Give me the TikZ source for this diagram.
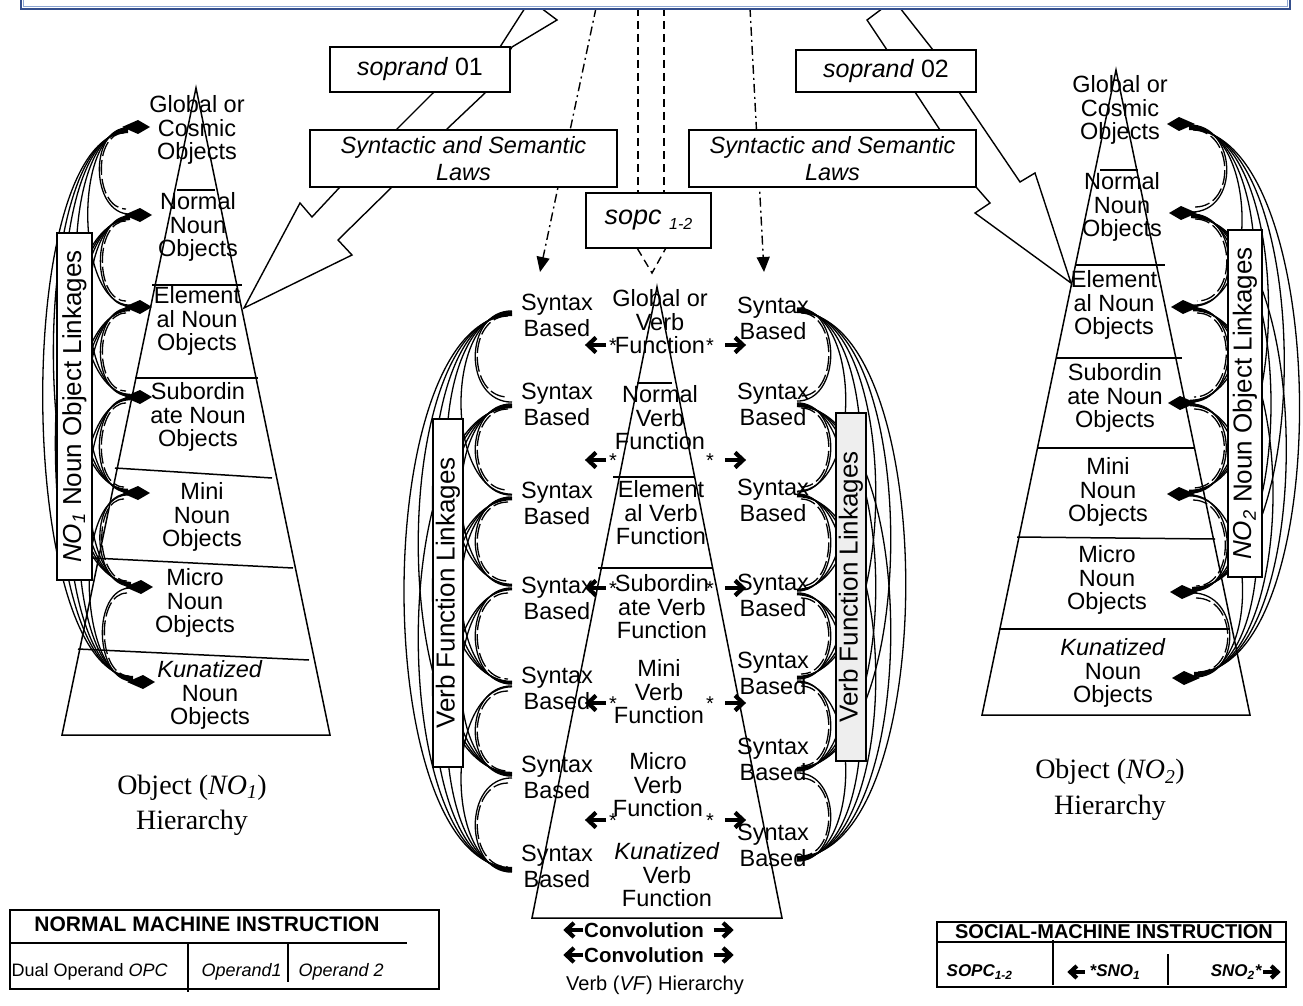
\documentclass[tikz,border=0pt]{standalone}
\usepackage{fontspec}
\setmainfont{Liberation Sans}
\newfontfamily\serifface{Liberation Serif}
\usetikzlibrary{calc,arrows.meta}
\definecolor{bannerblue}{RGB}{52,78,140}
\definecolor{bannerlight}{RGB}{140,165,210}
\definecolor{boxgray}{RGB}{238,238,238}
\newcommand{\linkcurves}[4]{%
  \foreach \i in {1,...,6}{%
    \pgfmathtruncatemacro\nxt{\i+1}%
    \foreach \j in {\nxt,...,7}{%
      \pgfmathsetmacro\cd{#2*(#3+#4*(\j-\i))}%
      \pgfmathsetmacro\oy{0.9*(\j-\i)}%
      \draw[link] ($(#1\i)+(0,\oy)$) .. controls ($(#1\i)+(\cd,\oy)$) and ($(#1\j)+(\cd,-\oy)$) .. ($(#1\j)+(0,-\oy)$);
    }%
    \pgfmathsetmacro\cd{#2*(#3+#4-4)}%
    \pgfmathsetmacro\sx{#2*4}%
    \draw[dlink] ($(#1\i)+(\sx,6)$) .. controls ($(#1\i)+(\cd,6)$) and ($(#1\nxt)+(\cd,-6)$) .. ($(#1\nxt)+(\sx,-6)$);
  }%
}
\begin{document}
\begin{tikzpicture}[x=1pt,y=-1pt,line width=1.3pt,
  txt/.style={font=\fontsize{23.5}{23.5}\selectfont,align=center,inner sep=0pt},
  syn/.style={font=\fontsize{23.5}{26}\selectfont,align=center,inner sep=0pt},
  tbox/.style={draw,fill=white,inner sep=0pt,line width=1.5pt},
  vbox/.style={draw,fill=white,inner sep=0pt,line width=1.5pt,rotate=90,font=\fontsize{26}{26}\selectfont},
  link/.style={line width=1.3pt},
  dlink/.style={line width=1.3pt,dash pattern=on 15pt off 4pt},
  dashdot/.style={line width=1.4pt,dash pattern=on 9pt off 4pt on 2pt off 4pt},
  dsh/.style={line width=1.4pt,dash pattern=on 8pt off 5pt},
  pyr/.style={line width=1.5pt},
  star/.style={font=\fontsize{20}{20}\selectfont,inner sep=0pt},
  dia/.pic={\fill (0,0) -- (-12,-7) -- (-28,0) -- (-12,7) -- cycle;},
  warr/.pic={\draw[line width=4.2pt] (-11,0) -- (7,0); \draw[line width=4.2pt] (-1,-7.5) -- (7,0) -- (-1,7.5);},
]
\useasboundingbox (0,0) rectangle (1303,1006);

% ---------- sopc box (for connector anchors) ----------
\node[tbox,minimum width=125,minimum height=55] (sopc) at (648.5,220.5) {};

% dash-dot and dashed connectors
\coordinate (dlTop) at (596,8); \coordinate (dlEnd) at (540,272);
\coordinate (drTop) at (750,8); \coordinate (drEnd) at (764,272);
\draw[dashdot,-{Triangle[length=15pt,width=13pt]}] (dlTop) -- (dlEnd);
\draw[dashdot,-{Triangle[length=15pt,width=13pt]}] (drTop) -- (drEnd);
\coordinate (c1t) at (638,8); \coordinate (c2t) at (664,8);
\draw[dsh] (c1t) -- (c1t |- sopc.north);
\draw[dsh] (c2t) -- (c2t |- sopc.north);
\coordinate (vTip) at (652,273);
\draw[dsh] ($(sopc.south)+(-11,0)$) -- (vTip) -- ($(sopc.south)+(17,0)$);

% big arrows
\draw[line width=1.4pt,fill=white] (525,8) -- (500,47) -- (433,93) -- (398,128) -- (340,187) -- (312,217) -- (300,203) -- (244,308) -- (352,255) -- (338,240) -- (392,187) -- (448,128) -- (485,93) -- (512,47) -- (557,20) -- (541,8) -- cycle;
\draw[line width=1.4pt,fill=white] (883,8) -- (867,20) -- (887,50) -- (915,92) -- (940,130) -- (976,187) -- (990,203) -- (975,213) -- (1071,283) -- (1035,173) -- (1020,182) -- (959,92) -- (933,50) -- (900,8) -- cycle;

\node[tbox,minimum width=180,minimum height=45,font=\fontsize{25}{25}\selectfont] (sp1) at (420,69.5) {\textit{soprand} 01};
\node[tbox,minimum width=180,minimum height=42,font=\fontsize{25}{25}\selectfont] (sp2) at (886,71) {\textit{soprand} 02};
\node[tbox,minimum width=307,minimum height=57,font=\fontsize{23.5}{27}\selectfont,align=center] (sl1) at (463.5,158.5) {\textit{Syntactic and Semantic}\\\textit{Laws}};
\node[tbox,minimum width=287,minimum height=57,font=\fontsize{23.5}{27}\selectfont,align=center] (sl2) at (832.5,158.5) {\textit{Syntactic and Semantic}\\\textit{Laws}};
\node[tbox,minimum width=125,minimum height=55] (sopcb) at (648.5,220.5) {\fontsize{27}{27}\selectfont\textit{sopc} \raisebox{-5pt}{\fontsize{16}{16}\selectfont\textit{1-2}}};

% banner
\draw[bannerblue,line width=2.2pt,fill=white] (21,-10) rectangle (1290,9);
\draw[bannerlight,line width=0.8pt] (23.5,-10) rectangle (1287.5,6.5);

% ---------- pyramids ----------
\draw[pyr] (196,88) -- (62,735) -- (330,735) -- cycle;
\draw[pyr] (177,190) -- (215,190);
\draw[pyr] (152,285) -- (242,285);
\draw[pyr] (135,378) -- (258,378);
\draw[pyr] (115,468) -- (272,478);
\draw[pyr] (93,558) -- (293,568);
\draw[pyr] (78,649) -- (309,660);

\draw[pyr] (1116,70) -- (982,715) -- (1250,715) -- cycle;
\draw[pyr] (1100,170) -- (1138,170);
\draw[pyr] (1076,265) -- (1165,265);
\draw[pyr] (1057,358) -- (1182,358);
\draw[pyr] (1038,448) -- (1194,448);
\draw[pyr] (1017,537) -- (1215,539);
\draw[pyr] (1000,629) -- (1230,629);

\draw[pyr] (657,287) -- (532,918) -- (782,918) -- cycle;
\draw[pyr] (637,383) -- (672,383);
\draw[pyr] (613,477) -- (695,477);
\draw[pyr] (598,568) -- (712,568);

% pyramid texts
\node[txt] (LN1) at (197,130) {Global or\\Cosmic\\Objects};
\node[txt] (LN2) at (198,227) {Normal\\Noun\\Objects};
\node[txt] (LN3) at (197,321) {Element\\al Noun\\Objects};
\node[txt] (LN4) at (198,417) {Subordin\\ate Noun\\Objects};
\node[txt] (LN5) at (202,517) {Mini\\Noun\\Objects};
\node[txt] (LN6) at (195,603) {Micro\\Noun\\Objects};
\node[txt] (LN7) at (210,695) {\textit{Kunatized}\\Noun\\Objects};

\node[txt] (RN1) at (1120,110) {Global or\\Cosmic\\Objects};
\node[txt] (RN2) at (1122,207) {Normal\\Noun\\Objects};
\node[txt] (RN3) at (1114,305) {Element\\al Noun\\Objects};
\node[txt] (RN4) at (1115,398) {Subordin\\ate Noun\\Objects};
\node[txt] (RN5) at (1108,492) {Mini\\Noun\\Objects};
\node[txt] (RN6) at (1107,580) {Micro\\Noun\\Objects};
\node[txt] (RN7) at (1113,673) {\textit{Kunatized}\\Noun\\Objects};

\node[txt] (VF1) at (660,322) {Global or\\Verb\\Function};
\node[txt] (VF2) at (660,418) {Normal\\Verb\\Function};
\node[txt] (VF3) at (661,513) {Element\\al Verb\\Function};
\node[txt] (VF4) at (662,607) {Subordin\\ate Verb\\Function};
\node[txt] (VF5) at (659,692) {Mini\\Verb\\Function};
\node[txt] (VF6) at (658,785) {Micro\\Verb\\Function};
\node[txt] (VF7) at (667,875) {\textit{Kunatized}\\Verb\\Function};

\foreach \k/\y in {1/315,2/404,3/503,4/598,5/688,6/777,7/866}
  \node[syn] (SL\k) at (557,\y) {Syntax\\Based};
\foreach \k/\y in {1/318,2/404,3/500,4/595,5/673,6/759,7/845}
  \node[syn] (SR\k) at (773,\y) {Syntax\\Based};

% ---------- linkage anchors ----------
\foreach \k/\x/\y in {1/150/127,2/152/215,3/152/307,4/152/397,5/150/493,6/153/587,7/155/682}{
  \coordinate (LT\k) at (\x,\y); \coordinate (LA\k) at (\x-22,\y);}
\foreach \k/\x/\y in {1/1167/124,2/1169/213,3/1171/307,4/1168/403,5/1167/494,6/1170/592,7/1172/678}{
  \coordinate (RT\k) at (\x,\y); \coordinate (RA\k) at (\x+22,\y);}
\foreach \k/\y in {1/310,2/403,3/496,4/587,5/685,6/777,7/873}
  \coordinate (VL\k) at (512,\y);
\foreach \k/\y in {1/307,2/402,3/493,4/592,5/680,6/772,7/862}
  \coordinate (VR\k) at (797,\y);

\linkcurves{LA}{-1}{24}{15.5}
\linkcurves{RA}{1}{30}{19}
\linkcurves{VL}{-1}{30}{19}
\linkcurves{VR}{1}{25}{20}

\foreach \k in {1,...,7}{
  \pic at (LT\k) {dia};
  \pic[xscale=-1] at (RT\k) {dia};
}

% linkage boxes
\node[vbox,minimum width=347,minimum height=35] (lnkL) at (74.5,406.5) {\textit{NO}\textsubscript{\textit{1}} Noun Object Linkages};
\node[vbox,minimum width=347,minimum height=34] (lnkR) at (1245,403.5) {\textit{NO}\textsubscript{\textit{2}} Noun Object Linkages};
\node[vbox,minimum width=348,minimum height=30] (vfL) at (448,593) {Verb Function Linkages};
\node[vbox,fill=boxgray,minimum width=348,minimum height=30] (vfR) at (851,587) {Verb Function Linkages};

% ---------- stars and short arrows ----------
\foreach \y in {345,460,588,703,820}{
  \pic[xscale=-1] at (595,\y) {warr};
  \pic at (736,\y) {warr};
  \node[star] at (613,\y+1) {*};
  \node[star] at (710,\y+1) {*};
}

% convolution
\foreach \y in {930,955}{
  \node[font=\bfseries\fontsize{20.5}{20.5}\selectfont,inner sep=0pt] (cv\y) at (644,\y) {Convolution};
  \pic[xscale=-0.95,yscale=0.95] at (573,\y) {warr};
  \pic[scale=0.95] at (724,\y) {warr};
}
\node[font=\fontsize{20}{20}\selectfont,inner sep=0pt] (vfh) at (655,985) {Verb (\textit{VF}) Hierarchy};

% hierarchy labels
\node[font=\serifface\fontsize{28}{35}\selectfont,align=center,inner sep=0pt] (objL) at (192,805) {Object (\textit{NO}\textsubscript{\textit{1}})\\Hierarchy};
\node[font=\serifface\fontsize{28}{36}\selectfont,align=center,inner sep=0pt] (objR) at (1110,790) {Object (\textit{NO}\textsubscript{\textit{2}})\\Hierarchy};

% ---------- tables ----------
\draw[line width=1.5pt] (10,910) rectangle (439,989);
\draw[line width=1.3pt] (10,943) -- (407,943);
\draw[line width=1.3pt] (188,943) -- (188,992);
\draw[line width=1.3pt] (288,943) -- (288,982);
\node[font=\bfseries\fontsize{21}{21}\selectfont,inner sep=0pt] (nmiT) at (207,924) {NORMAL MACHINE INSTRUCTION};
\node[anchor=west,font=\fontsize{18}{18}\selectfont,inner sep=0pt] (nmiA) at (11,972) {Dual Operand \textit{OPC}};
\node[anchor=west,font=\fontsize{18}{18}\selectfont,inner sep=0pt] (nmiB) at (201,972) {\textit{Operand1}};
\node[anchor=west,font=\fontsize{18}{18}\selectfont,inner sep=0pt] (nmiC) at (298,972) {\textit{Operand 2}};

\draw[line width=1.5pt] (937,922) rectangle (1286,987);
\draw[line width=1.3pt] (937,942) -- (1286,942);
\draw[line width=1.3pt] (1053,940) -- (1053,985);
\draw[line width=1.3pt] (1168,954) -- (1168,985);
\node[font=\bfseries\fontsize{20}{20}\selectfont,inner sep=0pt] (smiT) at (1114,932) {SOCIAL-MACHINE INSTRUCTION};
\node[anchor=west,font=\bfseries\itshape\fontsize{17}{17}\selectfont,inner sep=0pt] (smiA) at (946,972) {SOPC\textsubscript{1-2}};
\pic[xscale=-0.8,yscale=0.8] at (1076,972) {warr};
\node[anchor=west,font=\bfseries\itshape\fontsize{17}{17}\selectfont,inner sep=0pt] (smiB) at (1089,972) {*SNO\textsubscript{1}};
\node[anchor=east,font=\bfseries\itshape\fontsize{17}{17}\selectfont,inner sep=0pt] (smiC) at (1262,972) {SNO\textsubscript{2}*};
\pic[scale=0.8] at (1272,972) {warr};
\end{tikzpicture}
\end{document}
